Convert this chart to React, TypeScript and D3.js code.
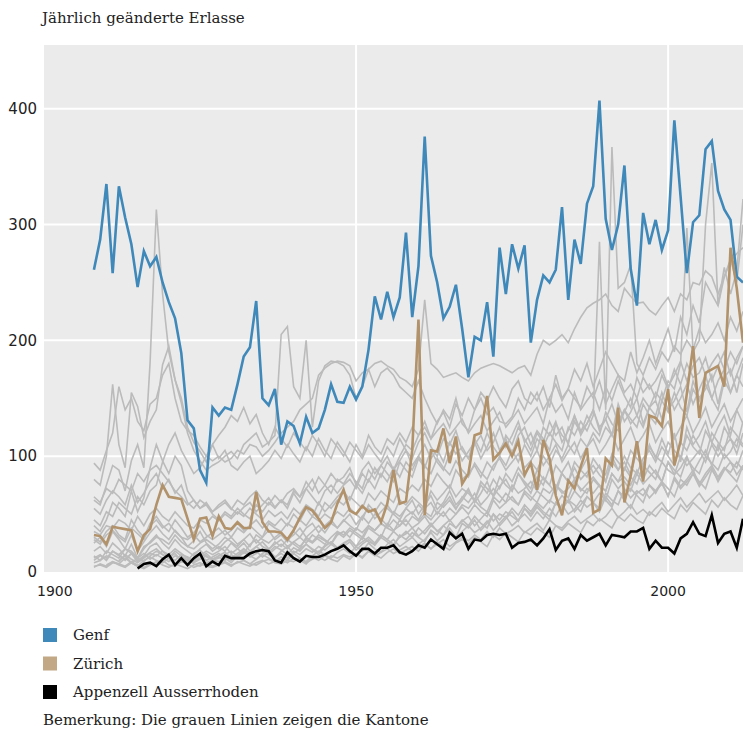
import * as React from 'react'
import * as d3 from 'd3'

// Jährlich geänderte Erlasse pro Kanton, 1908–2012
const genfStart = 1908
const genf = [
  261, 287, 335, 258, 333, 306, 283, 246, 277, 264,
  272, 250, 233, 219, 189, 131, 124, 88, 77, 142,
  135, 142, 140, 162, 186, 194, 234, 150, 144, 158,
  110, 130, 126, 111, 134, 120, 124, 140, 162, 147,
  146, 160, 149, 160, 192, 238, 218, 242, 220, 237,
  293, 220, 264, 376, 273, 250, 219, 229, 248, 210,
  168, 203, 200, 233, 186, 280, 240, 283, 262, 282,
  198, 235, 256, 250, 261, 315, 235, 287, 266, 318,
  333, 407, 305, 278, 300, 351, 262, 230, 310, 283,
  304, 278, 295, 390, 324, 258, 302, 308, 365, 372,
  329, 313, 304, 255, 250,
]

const zuerichStart = 1908
const zuerich = [
  32, 31, 24, 39, 38, 37, 36, 18, 32, 37,
  58, 75, 65, 64, 63, 46, 28, 46, 47, 31,
  48, 38, 37, 43, 38, 38, 69, 43, 35, 35,
  34, 28, 36, 47, 56, 53, 46, 38, 43, 59,
  71, 53, 50, 57, 52, 54, 43, 59, 88, 59,
  61, 105, 218, 49, 105, 104, 124, 94, 117, 76,
  85, 118, 120, 152, 97, 103, 111, 100, 113, 84,
  94, 71, 114, 98, 66, 49, 79, 72, 91, 107,
  51, 54, 98, 92, 142, 60, 83, 113, 78, 135,
  133, 126, 158, 92, 113, 154, 195, 133, 172, 175,
  178, 160, 280, 245, 198,
]

const appenzellStart = 1915
const appenzell = [
  3, 7, 8,
  5, 11, 15, 6, 12, 6, 12, 16, 5, 9,
  6, 14, 12, 12, 12, 16, 18, 19, 18, 10,
  8, 17, 12, 9, 14, 13, 13, 15, 18, 20,
  23, 18, 14, 20, 20, 16, 21, 21, 23, 17,
  15, 18, 23, 21, 28, 24, 20, 34, 29, 33,
  20, 28, 27, 32, 33, 32, 33, 21, 25, 26,
  28, 23, 29, 37, 19, 27, 29, 20, 32, 27,
  30, 33, 23, 32, 31, 30, 35, 35, 38, 20,
  27, 21, 21, 16, 29, 33, 43, 33, 31, 49,
  25, 33, 35, 21, 46,
]

// übrige Kantone (graue Linien)
const k01 = [
  62, 58, 75, 92, 88, 70, 96, 110, 90, 181,
  313, 240, 190, 166, 146, 120, 105, 96, 88, 92,
  95, 100, 104, 98, 110, 115, 120, 108, 112, 118,
  205, 212, 160, 150, 200, 125, 165, 178, 182, 181,
  178, 170, 150, 160, 175, 160, 172, 176, 170, 160,
  155, 150, 165, 150, 138, 128, 140, 132, 150, 128,
  122, 140, 150, 136, 142, 130, 128, 134, 150, 140,
  155, 148, 160, 142, 170, 150, 158, 175, 165, 180,
  160, 175, 190, 180, 170, 165, 190, 172, 185, 200,
  180, 195, 210, 190, 220, 205, 230, 215, 250, 240,
  230, 255, 270, 250, 300,
]
const k02 = [
  94, 88, 105, 120, 160, 140, 150, 130, 122, 145,
  150, 170, 180, 150, 130, 122, 118, 108, 100, 96,
  100, 95, 98, 105, 102, 110, 108, 100, 105, 112,
  120, 125, 130, 140, 145, 150, 170, 176, 180, 182,
  181, 178, 165, 172, 175, 180, 182, 178, 175, 168,
  165, 160, 175, 235, 180, 175, 168, 170, 172, 168,
  165, 172, 176, 178, 180, 178, 175, 172, 176, 178,
  170, 188, 200, 196, 200, 205, 198, 210, 220, 228,
  232, 235, 240, 230, 225, 245, 238, 232, 233, 226,
  222, 230, 237, 225, 240, 235, 250, 248, 260, 255,
  240, 255, 268, 275, 280,
]
const k03 = [
  5, 6, 4, 8, 7, 5, 9, 6, 4, 7,
  8, 10, 6, 5, 9, 7, 4, 6, 8, 5,
  7, 9, 6, 8, 10, 7, 6, 9, 11, 8,
  7, 10, 9, 12, 8, 11, 13, 10, 14, 12,
  15, 13, 16, 12, 18, 14, 17, 20, 16, 19,
  22, 18, 21, 25, 20, 24, 28, 22, 26, 30,
  27, 32, 28, 35, 30, 38, 33, 36, 40, 34,
  38, 42, 36, 45, 40, 38, 44, 48, 42, 46,
  50, 44, 48, 55, 47, 52, 58, 50, 54, 49,
  55, 60, 52, 58, 64, 56, 62, 68, 60, 65,
  70, 62, 68, 75, 66,
]
const k04 = [
  12, 15, 10, 18, 14, 11, 16, 9, 13, 17,
  20, 15, 12, 18, 14, 10, 16, 19, 13, 11,
  14, 17, 12, 16, 20, 15, 18, 13, 17, 22,
  19, 15, 21, 18, 24, 20, 17, 23, 26, 21,
  25, 28, 22, 30, 26, 24, 32, 28, 35, 30,
  33, 38, 31, 36, 42, 35, 40, 45, 38, 44,
  48, 40, 46, 52, 44, 50, 47, 55, 49, 58,
  52, 60, 55, 62, 58, 66, 60, 70, 64, 72,
  68, 75, 62, 80, 72, 78, 70, 85, 76, 82,
  88, 78, 95, 84, 90, 100, 86, 96, 105, 92,
  110, 98, 104, 115, 108,
]
const k05 = [
  25, 30, 22, 35, 28, 20, 32, 18, 26, 34,
  40, 33, 28, 36, 30, 22, 27, 35, 25, 20,
  24, 30, 26, 22, 28, 33, 25, 30, 36, 28,
  32, 26, 35, 30, 38, 42, 34, 40, 45, 38,
  44, 50, 41, 48, 55, 46, 52, 58, 50, 45,
  55, 62, 50, 58, 66, 54, 60, 70, 58, 64,
  72, 60, 68, 78, 65, 74, 80, 70, 85, 76,
  68, 82, 75, 90, 72, 86, 95, 80, 88, 98,
  85, 92, 78, 100, 88, 95, 84, 105, 92, 110,
  98, 115, 102, 120, 95, 125, 110, 118, 130, 112,
  125, 135, 118, 140, 128,
]
const k06 = [
  40, 35, 45, 60, 55, 48, 70, 52, 64, 90,
  110, 96, 85, 100, 92, 70, 62, 55, 58, 50,
  45, 52, 48, 55, 50, 46, 58, 52, 60, 55,
  62, 58, 70, 65, 72, 80, 68, 75, 85, 78,
  82, 90, 75, 88, 95, 85, 92, 100, 88, 96,
  105, 92, 100, 110, 98, 106, 95, 112, 102, 108,
  98, 115, 104, 120, 108, 100, 118, 110, 125, 115,
  105, 120, 112, 130, 118, 125, 110, 135, 122, 128,
  140, 125, 132, 118, 145, 130, 138, 150, 128, 142,
  135, 155, 140, 148, 160, 138, 165, 150, 158, 170,
  145, 168, 175, 155, 180,
]
const k07 = [
  8, 10, 14, 12, 9, 15, 11, 8, 12, 16,
  14, 18, 12, 10, 15, 13, 9, 12, 16, 11,
  13, 10, 15, 12, 17, 14, 11, 16, 19, 13,
  16, 12, 18, 15, 20, 17, 22, 19, 24, 20,
  22, 26, 19, 24, 28, 23, 30, 26, 22, 32,
  28, 34, 30, 26, 36, 32, 40, 35, 30, 42,
  38, 45, 36, 42, 50, 40, 46, 52, 44, 55,
  48, 56, 50, 45, 60, 54, 62, 52, 58, 65,
  60, 55, 68, 62, 58, 72, 64, 70, 66, 75,
  70, 78, 65, 82, 74, 80, 88, 76, 85, 92,
  82, 90, 86, 95, 88,
]
const k08 = [
  80, 75, 100, 162, 110, 90, 155, 143, 116, 130,
  140, 179, 195, 166, 150, 125, 112, 104, 95, 110,
  98, 105, 92, 88, 95, 100, 85, 90, 96, 105,
  98, 110, 102, 95, 108, 100, 115, 105, 98, 112,
  104, 95, 110, 100, 118, 108, 102, 115, 110, 120,
  112, 125, 118, 130, 115, 122, 128, 118, 125, 132,
  120, 128, 135, 122, 130, 138, 125, 132, 140, 128,
  135, 142, 128, 150, 138, 145, 132, 155, 140, 148,
  155, 140, 160, 148, 165, 152, 142, 168, 155, 162,
  150, 170, 158, 175, 162, 180, 168, 172, 185, 165,
  178, 190, 170, 185, 195,
]
const k09 = [
  55, 50, 62, 70, 65, 58, 75, 60, 68, 78,
  85, 72, 80, 68, 75, 60, 55, 62, 58, 52,
  56, 60, 54, 62, 58, 65, 70, 62, 58, 66,
  60, 68, 72, 65, 78, 70, 82, 75, 68, 80,
  76, 85, 78, 72, 88, 80, 92, 85, 78, 95,
  88, 82, 98, 90, 105, 95, 88, 102, 110, 96,
  104, 112, 98, 108, 120, 105, 115, 102, 118, 125,
  110, 122, 115, 105, 128, 118, 112, 130, 120, 135,
  125, 118, 138, 128, 122, 140, 132, 125, 145, 135,
  128, 148, 138, 155, 142, 135, 158, 148, 162, 150,
  140, 165, 155, 170, 160,
]
const k10 = [
  30, 26, 35, 40, 32, 28, 45, 36, 30, 42,
  48, 40, 35, 45, 38, 30, 34, 40, 32, 28,
  32, 36, 30, 38, 34, 40, 35, 30, 42, 38,
  35, 42, 38, 45, 40, 48, 44, 50, 46, 52,
  48, 55, 50, 45, 58, 52, 60, 55, 50, 62,
  58, 65, 60, 55, 70, 62, 68, 75, 65, 72,
  68, 62, 78, 72, 66, 82, 75, 70, 85, 78,
  72, 88, 80, 75, 92, 85, 78, 95, 88, 82,
  98, 90, 84, 102, 95, 88, 105, 98, 92, 108,
  100, 95, 112, 105, 98, 118, 108, 102, 122, 112,
  105, 125, 115, 108, 130,
]
const k11 = [
  15, 20, 18, 12, 22, 25,
  30, 28, 24, 32, 26, 22, 20, 25, 28, 24,
  20, 26, 30, 24, 28, 22, 32, 28, 25, 30,
  34, 28, 32, 38, 30, 35, 40, 34, 42, 38,
  45, 40, 36, 48, 42, 50, 46, 40, 52, 48,
  55, 50, 58, 52, 48, 60, 56, 62, 54, 65,
  60, 68, 58, 64, 72, 66, 60, 75, 68, 72,
  78, 70, 82, 75, 68, 85, 78, 90, 80, 86,
  92, 84, 78, 95, 88, 100, 90, 85, 98, 105,
  95, 108, 100, 92, 112, 105, 118, 108, 100, 120,
  112, 105, 125, 118, 110,
]
const k12 = [
  18, 22, 16, 25, 20, 14, 24, 12, 20, 26,
  32, 25, 20, 28, 22, 18, 14, 20, 24, 18,
  22, 18, 25, 20, 16, 24, 28, 22, 19, 26,
  22, 28, 24, 20, 30, 26, 32, 28, 24, 34,
  30, 36, 32, 28, 38, 34, 30, 42, 36, 40,
  45, 38, 42, 48, 40, 46, 52, 44, 50, 56,
  50, 58, 52, 48, 62, 55, 60, 65, 58, 68,
  62, 70, 65, 60, 75, 68, 72, 80, 70, 76,
  82, 75, 70, 85, 78, 90, 82, 76, 92, 86,
  80, 95, 88, 84, 100, 92, 98, 105, 95, 110,
  100, 108, 115, 102, 120,
]
const k13 = [
  45, 40, 52, 48, 60, 55, 50, 65, 58, 70,
  75, 95, 110, 120, 105, 95, 85, 90, 100, 110,
  118, 125, 135, 130, 142, 128, 136, 120, 110, 125,
  115, 108, 120, 112, 105, 118, 110, 100, 115, 108,
  100, 112, 105, 98, 110, 102, 95, 108, 100, 115,
  105, 98, 112, 120, 108, 100, 115, 110, 122, 105,
  98, 110, 118, 105, 112, 125, 108, 118, 130, 112,
  120, 105, 125, 118, 130, 112, 122, 135, 118, 128,
  140, 122, 132, 145, 128, 138, 150, 135, 125, 142,
  148, 132, 155, 140, 150, 162, 145, 158, 170, 150,
  165, 175, 155, 170, 185,
]
const k14 = [
  10, 14, 12, 18, 15, 10, 16, 12, 9, 14,
  18, 15, 12, 16, 10, 13, 8, 11, 14, 10,
  12, 15, 18, 14, 20, 16, 22, 18, 15, 20,
  24, 20, 26, 22, 28, 25, 30, 27, 24, 32,
  35, 30, 38, 34, 40, 36, 42, 38, 45, 40,
  48, 52, 45, 55, 60, 50, 58, 65, 55, 62,
  70, 62, 75, 68, 80, 72, 85, 78, 90, 82,
  95, 88, 100, 92, 105, 98, 110, 102, 115, 108,
  120, 112, 125, 118, 130, 140, 128, 135, 150, 142,
  155, 148, 165, 158, 180, 297, 190, 200, 300, 353,
  230, 263, 240, 260, 322,
]
const k15 = [
  35, 32, 40, 38, 45, 42, 36, 48, 40, 50,
  55, 48, 44, 52, 46, 40, 38, 45, 42, 48,
  44, 50, 46, 52, 48, 55, 50, 45, 53, 48,
  52, 46, 55, 50, 58, 54, 48, 60, 55, 62,
  58, 65, 60, 55, 68, 62, 70, 65, 60, 72,
  68, 75, 70, 80, 74, 85, 78, 72, 88, 80,
  85, 92, 82, 95, 88, 100, 92, 105, 95, 110,
  100, 115, 108, 120, 112, 105, 125, 118, 130, 122,
  135, 285, 140, 367, 245, 250, 265, 180, 170, 185,
  175, 190, 182, 195, 188, 200, 192, 210, 198, 205,
  215, 200, 220, 208, 225,
]
const k16 = [
  65, 60, 72, 68, 80, 75, 70, 85, 78, 88,
  92, 85, 78, 70, 65, 58, 62, 55, 60, 52,
  58, 62, 55, 50, 56, 60, 52, 58, 64, 56,
  62, 55, 68, 60, 72, 65, 58, 70, 75, 68,
  75, 80, 72, 85, 78, 90, 82, 95, 88, 100,
  110, 105, 118, 125, 115, 130, 138, 125, 145, 135,
  150, 140, 155, 148, 160, 150, 142, 158, 165, 150,
  145, 155, 140, 150, 162, 148, 158, 150, 142, 160,
  150, 165, 145, 158, 170, 155, 162, 150, 168, 158,
  165, 175, 160, 170, 182, 165, 178, 185, 170, 180,
  188, 175, 190, 180, 195,
]
const k17 = [
  6, 9, 7, 12, 8, 5, 10, 13,
  10, 8, 12, 6, 9, 11, 7, 5, 8, 10,
  9, 12, 8, 14, 10, 7, 11, 15, 12, 9,
  13, 10, 16, 12, 9, 14, 18, 15, 12, 17,
  20, 16, 22, 18, 25, 20, 17, 24, 28, 22,
  26, 30, 24, 28, 34, 27, 32, 38, 30, 35,
  40, 34, 38, 44, 36, 42, 48, 40, 45, 50,
  44, 52, 46, 55, 48, 58, 50, 54, 62, 56,
  60, 52, 65, 58, 70, 62, 55, 68, 72, 64,
  70, 76, 66, 80, 72, 78, 85, 74, 82, 90,
  78, 88, 95, 84, 92,
]
const k18 = [
  28, 24, 32, 36, 30, 26, 38, 33, 28, 40,
  45, 38, 42, 35, 30, 28, 32, 26, 30, 34,
  38, 32, 36, 42, 36, 40, 45, 38, 44, 40,
  46, 40, 50, 44, 55, 48, 60, 52, 58, 65,
  70, 62, 75, 68, 80, 72, 85, 78, 90, 82,
  95, 88, 100, 92, 85, 98, 90, 84, 96, 88,
  82, 94, 86, 80, 92, 98, 88, 95, 102, 90,
  96, 105, 92, 100, 110, 95, 104, 112, 98, 108,
  115, 102, 110, 120, 105, 115, 125, 110, 118, 128,
  112, 122, 130, 115, 125, 135, 120, 130, 142, 125,
  135, 145, 130, 140, 150,
]
const k19 = [
  10, 14, 8, 12, 16, 11,
  15, 12, 9, 14, 11, 8, 12, 15, 10, 13,
  16, 12, 10, 14, 18, 13, 16, 20, 15, 12,
  18, 22, 16, 20, 24, 19, 15, 22, 26, 20,
  24, 28, 22, 26, 30, 25, 32, 28, 24, 30,
  35, 30, 38, 33, 40, 36, 32, 42, 38, 45,
  40, 48, 42, 38, 50, 45, 52, 48, 44, 55,
  50, 58, 52, 48, 60, 55, 62, 58, 52, 65,
  60, 68, 62, 56, 70, 65, 72, 66, 60, 75,
  68, 78, 72, 65, 80, 75, 85, 78, 72, 88,
  80, 90, 84, 78, 92,
]
const k20 = [
  14, 10, 18, 15, 12, 20, 16, 10, 14, 22,
  25, 18, 15, 20, 16, 12, 10, 14, 18, 15,
  18, 22, 16, 20, 25, 18, 22, 26, 20, 24,
  28, 22, 26, 30, 25, 32, 28, 24, 30, 35,
  32, 38, 34, 30, 40, 36, 42, 38, 35, 45,
  40, 48, 44, 50, 45, 52, 48, 55, 50, 58,
  55, 62, 56, 52, 65, 60, 68, 62, 58, 70,
  65, 60, 72, 68, 75, 70, 64, 78, 72, 68,
  80, 74, 70, 85, 78, 82, 75, 88, 80, 92,
  85, 78, 95, 88, 82, 98, 90, 85, 100, 94,
  88, 102, 95, 90, 105,
]
const k21 = [
  4, 7, 5, 9, 6, 4, 8, 5, 3, 6,
  9, 6, 4, 7, 5, 3, 6, 8, 5, 4,
  6, 8, 5, 9, 7, 5, 8, 10, 7, 9,
  11, 8, 12, 10, 7, 13, 10, 14, 11, 9,
  14, 11, 16, 13, 18, 15, 12, 17, 20, 16,
  19, 22, 18, 24, 20, 26, 22, 19, 25, 28,
  24, 30, 26, 22, 32, 28, 34, 30, 26, 35,
  32, 38, 34, 30, 40, 36, 42, 38, 34, 44,
  40, 46, 42, 38, 48, 44, 50, 45, 42, 52,
  48, 55, 50, 46, 58, 52, 60, 55, 50, 62,
  56, 64, 58, 54, 66,
]

const kantone = [k01, k02, k03, k04, k05, k06, k07, k08, k09, k10, k11, k12, k13, k14, k15, k16, k17, k18, k19, k20, k21]
const kantoneStart = [1908, 1908, 1908, 1908, 1908, 1908, 1908, 1908, 1908, 1908, 1912, 1908, 1908, 1908, 1908, 1908, 1910, 1908, 1912, 1908, 1908]

const yTicks = [0, 100, 200, 300, 400]
const xTicks = [1900, 1950, 2000]
const legendLabels = ['Genf', 'Zürich', 'Appenzell Ausserrhoden']
const legendColors = ['#3f88ba', '#c3a886', '#000000']

const W = 743
const H = 730
const plot = {left: 44, right: 743, top: 45, bottom: 572}
const serif = '"DejaVu Serif", serif'
const sans = '"DejaVu Sans", sans-serif'

const toPoints = (values: number[], start: number) => values.map((v, i) => [start + i, v] as [number, number])

export default function App() {
  const x = d3.scaleLinear().domain([1900, 2012]).range([plot.left, plot.right])
  const y = d3.scaleLinear().domain([0, 455]).range([plot.bottom, plot.top])
  const line = d3.line<[number, number]>().x(d => x(d[0])).y(d => y(d[1]))

  return (
    <svg width={W} height={H} style={{position: 'absolute', left: 0, top: 0, background: '#fff'}}>
      <defs>
        <clipPath id="plotclip">
          <rect x={plot.left} y={plot.top} width={plot.right - plot.left} height={plot.bottom - plot.top} />
        </clipPath>
      </defs>

      <text x={42} y={23} fontFamily={serif} fontSize={15} fill="#222">Jährlich geänderte Erlasse</text>

      <rect x={plot.left} y={plot.top} width={plot.right - plot.left} height={plot.bottom - plot.top} fill="#ebebeb" />
      {yTicks.filter(t => t > 0).map(t => (
        <line key={'gy' + t} x1={plot.left} x2={plot.right} y1={y(t)} y2={y(t)} stroke="#fff" strokeWidth={2} />
      ))}
      {xTicks.filter(t => t > 1900).map(t => (
        <line key={'gx' + t} x1={x(t)} x2={x(t)} y1={plot.top} y2={plot.bottom} stroke="#fff" strokeWidth={2} />
      ))}

      <g clipPath="url(#plotclip)" fill="none">
        {kantone.map((k, i) => (
          <path key={'k' + i} d={line(toPoints(k, kantoneStart[i])) || ''} stroke="#bbbbbb" strokeWidth={1.6} />
        ))}
        <path d={line(toPoints(genf, genfStart)) || ''} stroke="#3f88ba" strokeWidth={2.6} />
        <path d={line(toPoints(zuerich, zuerichStart)) || ''} stroke="#b1926a" strokeWidth={2.6} />
        <path d={line(toPoints(appenzell, appenzellStart)) || ''} stroke="#000" strokeWidth={2.6} />
      </g>

      {yTicks.map(t => (
        <text key={'ty' + t} x={37} y={y(t)} dy="0.35em" textAnchor="end" fontFamily={sans} fontSize={15} fill="#222">{t}</text>
      ))}
      {xTicks.map((t, i) => (
        <text key={'tx' + t} x={i === 0 ? 37 : x(t)} y={596} textAnchor={i === 0 ? 'start' : 'middle'} fontFamily={sans} fontSize={14} fill="#222">{t}</text>
      ))}

      {legendLabels.map((l, i) => (
        <g key={l} transform={`translate(43, ${628 + i * 28.5})`}>
          <rect x={0} y={0} width={14} height={14} fill={legendColors[i]} />
          <text x={30} y={12} fontFamily={serif} fontSize={15} fill="#222">{l}</text>
        </g>
      ))}
      <text x={43} y={725} fontFamily={serif} fontSize={15} fill="#222">Bemerkung: Die grauen Linien zeigen die Kantone</text>
    </svg>
  )
}
